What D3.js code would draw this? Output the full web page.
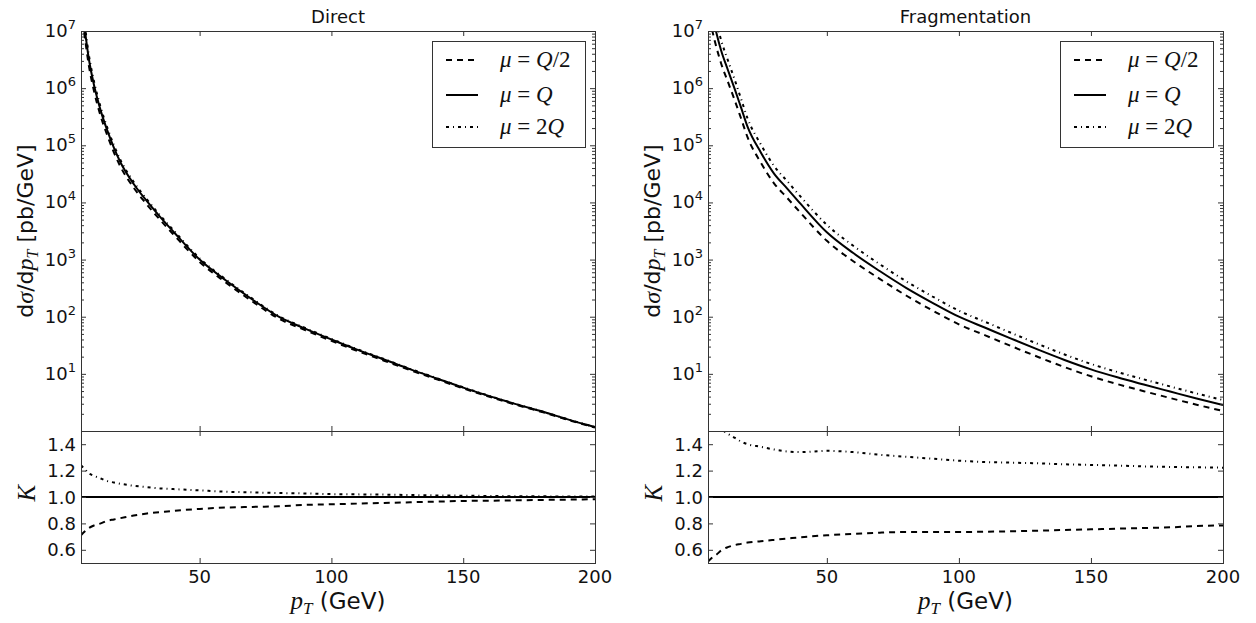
<!DOCTYPE html>
<html lang="en">
<head>
<meta charset="UTF-8">
<title>Direct and fragmentation pT spectra</title>
<script src="https://d3js.org/d3.v7.min.js"></script>
<style>
  body { margin: 0; background: #fff; }
  svg { display: block; font-family: "DejaVu Sans", sans-serif; }
  .tick line { stroke: #333; }
  .math { font-family: "Liberation Serif", serif; }
</style>
</head>
<body>
<svg id="chart" width="1256" height="623"></svg>
<script>
// pT grid (GeV)
const pT = [5, 6.5, 8, 10, 12.5, 15, 17.5, 20, 25, 30, 35, 40, 50, 60, 70, 80, 90, 100, 110, 120, 130, 140, 150, 160, 170, 180, 190, 200];

// direct photons, mu = Q (pb/GeV) and ratios K for mu = Q/2, 2Q
const directSigma = [3.2e7, 1.0e7, 3.2e6, 1.1e6, 4.0e5, 1.8e5, 9.0e4, 5.0e4, 2.1e4, 1.05e4, 5.6e3, 3.1e3, 1.0e3, 430, 200, 100, 62, 40, 26.3, 17.8, 12.0, 8.3, 5.75, 4.07, 2.95, 2.19, 1.58, 1.17];
const directKHalf = [0.71, 0.74, 0.765, 0.785, 0.80, 0.82, 0.83, 0.84, 0.86, 0.875, 0.885, 0.895, 0.91, 0.92, 0.925, 0.93, 0.94, 0.945, 0.95, 0.955, 0.96, 0.965, 0.97, 0.972, 0.975, 0.978, 0.98, 0.983];
const directKTwo = [1.24, 1.21, 1.18, 1.16, 1.14, 1.12, 1.11, 1.10, 1.085, 1.075, 1.065, 1.06, 1.05, 1.04, 1.035, 1.03, 1.027, 1.022, 1.02, 1.018, 1.015, 1.012, 1.01, 1.008, 1.006, 1.005, 1.004, 1.003];

// fragmentation photons
const fragSigma = [5.0e7, 2.0e7, 1.0e7, 4.5e6, 2.1e6, 1.0e6, 4.6e5, 2.1e5, 7.5e4, 3.2e4, 1.75e4, 9.5e3, 3.0e3, 1.3e3, 630, 320, 175, 100, 64, 41, 26.5, 17.5, 12, 8.7, 6.5, 4.9, 3.7, 2.85];
const fragKHalf = [0.51, 0.54, 0.56, 0.595, 0.62, 0.635, 0.645, 0.655, 0.665, 0.675, 0.685, 0.695, 0.71, 0.72, 0.73, 0.735, 0.735, 0.735, 0.737, 0.74, 0.745, 0.75, 0.755, 0.76, 0.765, 0.77, 0.78, 0.785];
const fragKTwo = [1.75, 1.65, 1.58, 1.52, 1.48, 1.45, 1.42, 1.40, 1.38, 1.36, 1.345, 1.34, 1.35, 1.34, 1.32, 1.305, 1.29, 1.275, 1.265, 1.26, 1.255, 1.248, 1.243, 1.238, 1.232, 1.228, 1.225, 1.222];

const xTicks = [50, 100, 150, 200];
const kTicks = [0.6, 0.8, 1.0, 1.2, 1.4];
const sigmaExponents = [1, 2, 3, 4, 5, 6, 7];

// legend entries
const scaleNames = [["Q", "/2"], ["Q", ""], ["2", "Q"]];
const dashes = ["6,5", null, "3,4,1,4"];

const svg = d3.select("#chart");
const topY0 = 31, topY1 = 431, botY1 = 563;

const panels = [
  {title: "Direct", x0: 81, x1: 595, sigma: directSigma, kHalf: directKHalf, kTwo: directKTwo},
  {title: "Fragmentation", x0: 708, x1: 1223, sigma: fragSigma, kHalf: fragKHalf, kTwo: fragKTwo}
];

panels.forEach((p, pi) => {
  const x = d3.scaleLinear().domain([5, 200]).range([p.x0, p.x1]);
  const y = d3.scaleLog().domain([1, 1e7]).range([topY1, topY0]);
  const k = d3.scaleLinear().domain([0.5, 1.5]).range([botY1, topY1]);
  const g = svg.append("g");

  // clip paths
  const defs = svg.append("defs");
  defs.append("clipPath").attr("id", "clipTop" + pi)
    .append("rect").attr("x", p.x0).attr("y", topY0).attr("width", p.x1 - p.x0).attr("height", topY1 - topY0);
  defs.append("clipPath").attr("id", "clipBot" + pi)
    .append("rect").attr("x", p.x0).attr("y", topY1).attr("width", p.x1 - p.x0).attr("height", botY1 - topY1);

  // curves
  const ratios = [p.kHalf, pT.map(() => 1), p.kTwo];
  const lineTop = d3.line().x(d => x(d[0])).y(d => y(d[1])).curve(d3.curveMonotoneX);
  const lineBot = d3.line().x(d => x(d[0])).y(d => k(d[1])).curve(d3.curveMonotoneX);

  const topG = g.append("g").attr("clip-path", `url(#clipTop${pi})`);
  const botG = g.append("g").attr("clip-path", `url(#clipBot${pi})`);
  ratios.forEach((r, i) => {
    const pts = pT.map((v, j) => [v, p.sigma[j] * r[j]]);
    topG.append("path").datum(pts).attr("d", lineTop)
      .attr("fill", "none").attr("stroke", "#000").attr("stroke-width", 2)
      .attr("stroke-dasharray", dashes[i]);
    const kp = pT.map((v, j) => [v, r[j]]);
    botG.append("path").datum(kp).attr("d", lineBot)
      .attr("fill", "none").attr("stroke", "#000").attr("stroke-width", 2)
      .attr("stroke-dasharray", dashes[i]);
  });

  // ticks (inward)
  const majors = [1].concat(sigmaExponents.map(e => Math.pow(10, e)));
  const minors = [];
  for (let e = 0; e < 7; e++) for (let m = 2; m <= 9; m++) minors.push(m * Math.pow(10, e));

  const addAxis = (axis, tx, ty) => {
    const a = g.append("g").attr("transform", `translate(${tx},${ty})`).call(axis);
    a.select(".domain").remove();
    a.selectAll("text").remove();
  };
  addAxis(d3.axisLeft(y).tickValues(majors).tickSize(-5), p.x0, 0);
  addAxis(d3.axisLeft(y).tickValues(minors).tickSize(-3), p.x0, 0);
  addAxis(d3.axisRight(y).tickValues(majors).tickSize(-5), p.x1, 0);
  addAxis(d3.axisRight(y).tickValues(minors).tickSize(-3), p.x1, 0);
  addAxis(d3.axisTop(x).tickValues(xTicks).tickSize(-5), 0, topY0);
  addAxis(d3.axisBottom(x).tickValues(xTicks).tickSize(-5), 0, topY1);
  addAxis(d3.axisTop(x).tickValues(xTicks).tickSize(-5), 0, topY1);
  addAxis(d3.axisBottom(x).tickValues(xTicks).tickSize(-5), 0, botY1);
  addAxis(d3.axisLeft(k).tickValues(kTicks).tickSize(-5), p.x0, 0);
  addAxis(d3.axisRight(k).tickValues(kTicks).tickSize(-5), p.x1, 0);

  // frames
  g.append("rect").attr("x", p.x0 + 0.5).attr("y", topY0 + 0.5)
    .attr("width", p.x1 - p.x0).attr("height", topY1 - topY0)
    .attr("fill", "none").attr("stroke", "#333");
  g.append("rect").attr("x", p.x0 + 0.5).attr("y", topY1 + 0.5)
    .attr("width", p.x1 - p.x0).attr("height", botY1 - topY1)
    .attr("fill", "none").attr("stroke", "#333");

  // tick labels
  sigmaExponents.forEach(e => {
    const t = g.append("text").attr("x", p.x0 - 5).attr("y", y(Math.pow(10, e)) + 6)
      .attr("text-anchor", "end").attr("font-size", 18).attr("fill", "#111");
    t.append("tspan").text("10");
    t.append("tspan").attr("dy", -8).attr("font-size", 13).text(e);
  });
  kTicks.forEach(v => {
    g.append("text").attr("x", p.x0 - 5).attr("y", k(v) + 6.5)
      .attr("text-anchor", "end").attr("font-size", 18).attr("fill", "#111")
      .text(v.toFixed(1));
  });
  xTicks.forEach(v => {
    g.append("text").attr("x", x(v)).attr("y", botY1 + 20)
      .attr("text-anchor", "middle").attr("font-size", 18).attr("fill", "#111")
      .text(v);
  });

  // title
  const cx = (p.x0 + p.x1) / 2;
  g.append("text").attr("x", cx).attr("y", 23).attr("text-anchor", "middle")
    .attr("font-size", 18).attr("fill", "#111").text(p.title);

  // x label
  const xl = g.append("text").attr("x", cx).attr("y", 609).attr("text-anchor", "middle")
    .attr("font-size", 23).attr("fill", "#111");
  xl.append("tspan").attr("class", "math").attr("font-style", "italic").attr("font-size", 25).text("p");
  xl.append("tspan").attr("class", "math").attr("font-style", "italic").attr("font-size", 17).attr("dy", 5).text("T");
  xl.append("tspan").attr("dy", -5).text(" (GeV)");

  // y label
  const yl = g.append("text").attr("transform", `translate(${p.x0 - 48},${(topY0 + topY1) / 2}) rotate(-90)`)
    .attr("text-anchor", "middle").attr("font-size", 22).attr("fill", "#111");
  yl.append("tspan").text("d");
  yl.append("tspan").attr("class", "math").attr("font-style", "italic").attr("font-size", 24).text("σ");
  yl.append("tspan").text("/d");
  yl.append("tspan").attr("class", "math").attr("font-style", "italic").attr("font-size", 24).text("p");
  yl.append("tspan").attr("class", "math").attr("font-style", "italic").attr("font-size", 16).attr("dy", 5).text("T");
  yl.append("tspan").attr("dy", -5).text(" [pb/GeV]");

  // K label
  g.append("text").attr("class", "math").attr("transform", `translate(${p.x0 - 46},${k(1.03)}) rotate(-90)`)
    .attr("text-anchor", "middle").attr("font-size", 25).attr("font-style", "italic")
    .attr("fill", "#111").text("K");

  // legend
  const lx = p.x1 - 163, ly = topY0 + 10;
  const lg = g.append("g");
  lg.append("rect").attr("x", lx + 0.5).attr("y", ly + 0.5).attr("width", 153).attr("height", 106)
    .attr("fill", "#fff").attr("stroke", "#333");
  const rowY = [60, 95, 127];
  scaleNames.forEach((nm, i) => {
    lg.append("line").attr("x1", lx + 14).attr("x2", lx + 46).attr("y1", rowY[i]).attr("y2", rowY[i])
      .attr("stroke", "#000").attr("stroke-width", 2).attr("stroke-dasharray", dashes[i]);
    const t = lg.append("text").attr("class", "math").attr("x", lx + 68).attr("y", rowY[i] + 7)
      .attr("font-size", 23).attr("fill", "#111");
    t.append("tspan").attr("font-style", "italic").text("μ");
    t.append("tspan").text(" = ");
    if (i === 2) {
      t.append("tspan").text(nm[0]);
      t.append("tspan").attr("font-style", "italic").text(nm[1]);
    } else {
      t.append("tspan").attr("font-style", "italic").text(nm[0]);
      t.append("tspan").text(nm[1]);
    }
  });
});
</script>
</body>
</html>
